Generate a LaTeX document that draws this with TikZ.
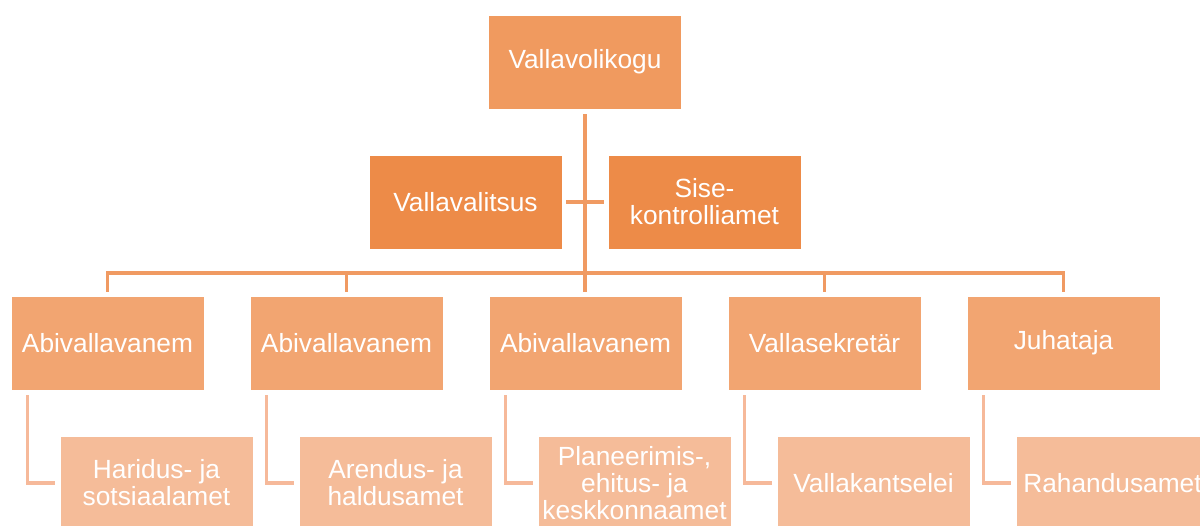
\documentclass[tikz,border=0pt]{standalone}
\usepackage{fontspec}
\setmainfont{Liberation Sans}
\usetikzlibrary{calc}
\definecolor{c0}{HTML}{F09A5F}
\definecolor{ca}{HTML}{ED8B48}
\definecolor{c1}{HTML}{F2A571}
\definecolor{c2}{HTML}{F5BC99}
\definecolor{lineA}{HTML}{F09A62}
\definecolor{lineB}{HTML}{F6B99A}
\begin{document}
\begin{tikzpicture}[x=0.025cm,y=-0.025cm,
  box/.style={rectangle, minimum width=4.825cm, minimum height=2.35cm, inner sep=1pt,
    text=white, align=center, font=\fontsize{18.7}{19.2}\selectfont,
    draw=white, line width=0.4pt},
  topbox/.style={box, fill=c0},
  asstbox/.style={box, fill=ca},
  midbox/.style={box, fill=c1},
  lowbox/.style={box, fill=c2},
  linkA/.style={draw=lineA, line width=2.5pt},
  linkB/.style={draw=lineB, line width=2.3pt}]
\useasboundingbox (0,0) rectangle (1200,525);
\clip (0,0) rectangle (1200,525);

\node[topbox] (v0) at (585,62) {\raisebox{-2pt}{Vallavolikogu}};
\node[asstbox] (va) at (465.5,202) {Vallavalitsus};
\node[asstbox] (sk) at (704.5,202) {Sise-\\kontrolliamet};

\node[midbox] (b1) at (107.5,343) {Abivallavanem};
\node[midbox] (b2) at (346.5,343) {Abivallavanem};
\node[midbox] (b3) at (585.5,343) {Abivallavanem};
\node[midbox] (b4) at (824.5,343) {Vallasekretär};
\node[midbox] (b5) at (1063.5,343) {Juhataja};

\node[lowbox] (c1) at (156.5,483) {Haridus- ja\\sotsiaalamet};
\node[lowbox] (c2) at (395.5,483) {Arendus- ja\\haldusamet};
\node[lowbox] (c3) at (634.5,483) {Planeerimis-,\\ehitus- ja\\keskkonnaamet};
\node[lowbox] (c4) at (873.5,483) {Vallakantselei};
\node[lowbox] (c5) at (1112.5,483) {Rahandusamet};

\coordinate (bus) at (585,273);

\draw[linkA] ($(v0.south)+(0,5)$) -- ($(v0.south |- b3.north)+(0,-4)$);
\draw[linkA] ($(va.east)+(4,0)$) -- ($(sk.west)+(-4,0)$);
\draw[linkA] ($(b1.north)+(0,-4)$) |- (bus) -| ($(b5.north)+(0,-4)$);
\draw[linkA] ($(b2.north)+(0,-4)$) -- (b2.north |- bus);
\draw[linkA] ($(b4.north)+(0,-4)$) -- (b4.north |- bus);

\draw[linkB] ($(b1.south west)+(17,5)$) |- ($(c1.west)+(-5,0)$);
\draw[linkB] ($(b2.south west)+(17,5)$) |- ($(c2.west)+(-5,0)$);
\draw[linkB] ($(b3.south west)+(17,5)$) |- ($(c3.west)+(-5,0)$);
\draw[linkB] ($(b4.south west)+(17,5)$) |- ($(c4.west)+(-5,0)$);
\draw[linkB] ($(b5.south west)+(17,5)$) |- ($(c5.west)+(-5,0)$);
\end{tikzpicture}
\end{document}
